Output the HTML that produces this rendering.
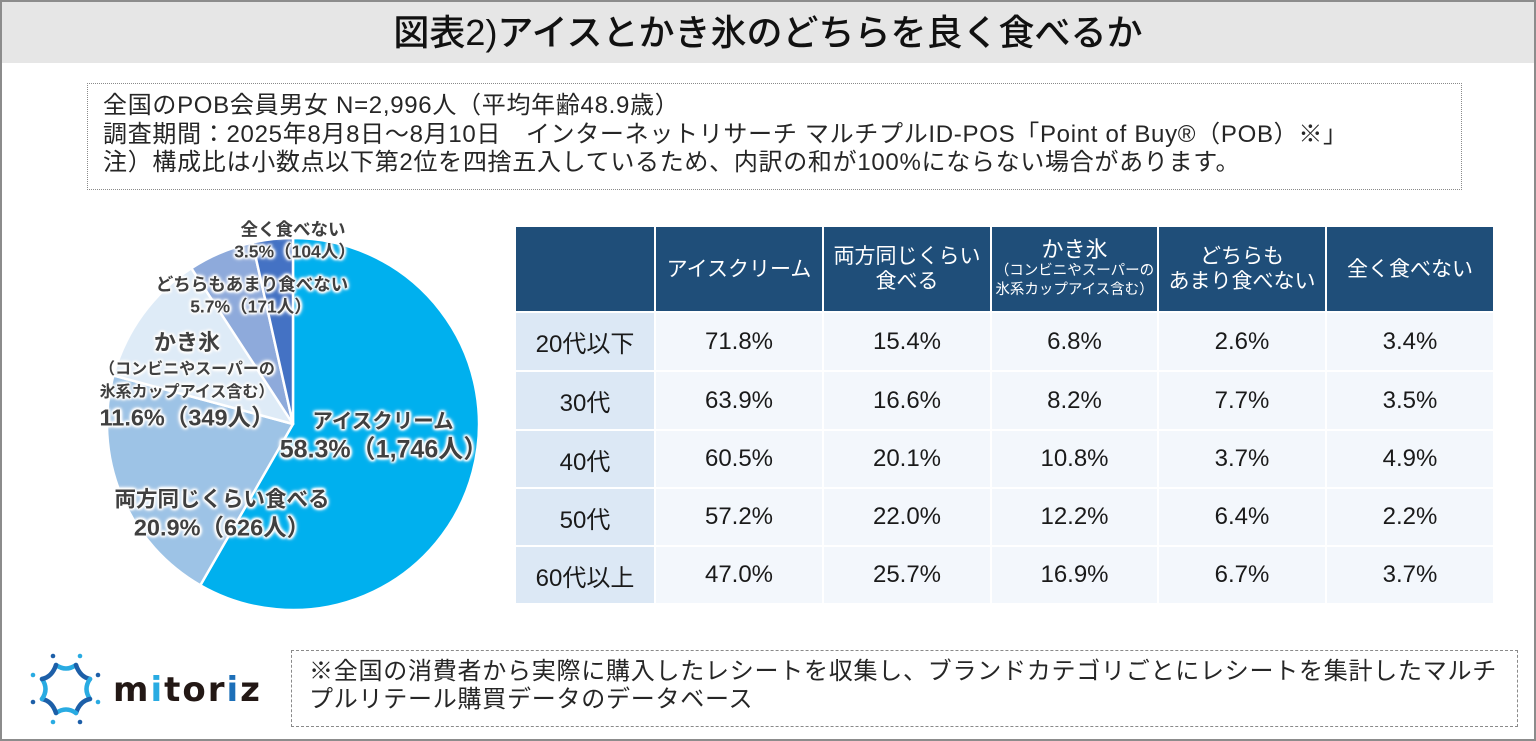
<!DOCTYPE html>
<html><head><meta charset="utf-8">
<style>
*{margin:0;padding:0;box-sizing:border-box}
html,body{width:1536px;height:741px;overflow:hidden;background:#fff}
body{position:relative;font-family:"Liberation Sans","Noto Sans CJK JP",sans-serif;color:#222}
.frame{position:absolute;left:0;top:0;width:1536px;height:741px;border:2px solid #8c8c8c}
.band{position:absolute;left:2px;top:2px;width:1532px;height:61px;background:#e6e6e6}
.title{position:absolute;left:0;top:2px;width:1536px;height:61px;line-height:61px;text-align:center;font-size:36px;font-weight:500;color:#111}
.info{position:absolute;left:87px;top:83px;width:1375px;height:107px;border:1px dotted #8a8a8a}
.infot{position:absolute;left:103px;top:92px;font-size:24px;line-height:28.5px;color:#262626;white-space:nowrap;letter-spacing:0.7px}
.note{position:absolute;left:291px;top:650px;width:1227px;height:77px;border:1px dashed #8a8a8a}
.notet{position:absolute;left:309px;top:658px;font-size:24px;line-height:28px;color:#262626;white-space:nowrap;letter-spacing:0.75px}
.lbl{position:absolute;transform:translate(-50%,-50%);white-space:nowrap;color:#404040;font-weight:bold;
 text-shadow:0 0 2px #fff,0 0 3px #fff,0 0 4px #fff,0 0 5px #fff,0 0 6px #fff,1px 1px 2px #fff,-1px -1px 2px #fff,1px -1px 2px #fff,-1px 1px 2px #fff;line-height:1}
.c{position:absolute;display:flex;align-items:center;justify-content:center;text-align:center;white-space:nowrap}
.h{background:#1f4e79;color:#fff;font-size:21px;line-height:25px;flex-direction:column}
.r{background:#dce8f5;font-size:24px;color:#1a1a1a}
.d{background:#f3f7fc;font-size:24px;color:#1a1a1a}
.mit{position:absolute;left:113px;top:670px;font-size:34px;font-weight:bold;letter-spacing:2px;color:#231815;font-family:"DejaVu Sans","Liberation Sans",sans-serif;line-height:40px}
</style></head><body>
<div class="frame"></div>
<div class="band"></div>
<div class="title">図表2)アイスとかき氷のどちらを良く食べるか</div>

<div class="info"></div>
<div class="infot">全国のPOB会員男女 N=2,996人（平均年齢48.9歳）<br>調査期間：2025年8月8日～8月10日　インターネットリサーチ マルチプルID-POS「Point of Buy®（POB）※」<br>注）構成比は小数点以下第2位を四捨五入しているため、内訳の和が100%にならない場合があります。</div>

<svg style="position:absolute;left:0;top:0" width="1536" height="741">
<g stroke="#fff" stroke-width="2.5" stroke-linejoin="round">
<path d="M293,424 L293,238 A186,186 0 1,1 200.35,585.28 Z" fill="#00b0ee"/>
<path d="M293,424 L200.35,585.28 A186,186 0 0,1 113.44,375.47 Z" fill="#9dc3e6"/>
<path d="M293,424 L113.44,375.47 A186,186 0 0,1 191.37,268.22 Z" fill="#deebf7"/>
<path d="M293,424 L191.37,268.22 A186,186 0 0,1 252.43,242.48 Z" fill="#8eaadb"/>
<path d="M293,424 L252.43,242.48 A186,186 0 0,1 293,238 Z" fill="#4472c4"/>
</g>
<!-- logo -->
<g fill="none" stroke-width="4.5" stroke-linecap="round">
<path d="M56,665 Q66,672 76,665" stroke="#29abe2"/>
<path d="M76,665 Q80,677 90,679" stroke="#1d5fa8"/>
<path d="M90,679 Q83,689 90,699" stroke="#29abe2"/>
<path d="M90,699 Q80,701 76,713" stroke="#1d5fa8"/>
<path d="M76,713 Q66,706 56,713" stroke="#29abe2"/>
<path d="M56,713 Q52,701 42,699" stroke="#1d5fa8"/>
<path d="M42,699 Q49,689 42,679" stroke="#29abe2"/>
<path d="M42,679 Q52,677 56,665" stroke="#1d5fa8"/>
</g>
<g>
<circle cx="53" cy="656" r="2.3" fill="#1d5fa8"/><circle cx="80" cy="656" r="2.3" fill="#29abe2"/>
<circle cx="98" cy="675" r="2.3" fill="#1d5fa8"/><circle cx="98" cy="702" r="2.3" fill="#29abe2"/>
<circle cx="80" cy="722" r="2.3" fill="#1d5fa8"/><circle cx="53" cy="722" r="2.3" fill="#29abe2"/>
<circle cx="33" cy="702" r="2.3" fill="#1d5fa8"/><circle cx="33" cy="675" r="2.3" fill="#29abe2"/>
</g>
</svg>

<div class="lbl" style="left:293px;top:230px;font-size:17.5px">全く食べない</div>
<div class="lbl" style="left:295px;top:252px;font-size:17.5px">3.5%（104人）</div>
<div class="lbl" style="left:252px;top:285px;font-size:17.5px">どちらもあまり食べない</div>
<div class="lbl" style="left:251px;top:307px;font-size:17.5px">5.7%（171人）</div>
<div class="lbl" style="left:187px;top:343px;font-size:22px">かき氷</div>
<div class="lbl" style="left:187px;top:370px;font-size:16px">（コンビニやスーパーの</div>
<div class="lbl" style="left:187px;top:393px;font-size:16px">氷系カップアイス含む）</div>
<div class="lbl" style="left:187px;top:418px;font-size:23.5px">11.6%（349人）</div>
<div class="lbl" style="left:383px;top:422px;font-size:20.5px">アイスクリーム</div>
<div class="lbl" style="left:384px;top:450px;font-size:25px">58.3%（1,746人）</div>
<div class="lbl" style="left:222px;top:500px;font-size:21.5px">両方同じくらい食べる</div>
<div class="lbl" style="left:222px;top:528px;font-size:23.5px">20.9%（626人）</div>

<!-- table header -->
<div class="c h" style="left:516px;top:227px;width:138px;height:84px"></div>
<div class="c h" style="left:656px;top:227px;width:166px;height:84px">アイスクリーム</div>
<div class="c h" style="left:824px;top:227px;width:166px;height:84px"><span>両方同じくらい</span><span>食べる</span></div>
<div class="c h" style="left:992px;top:227px;width:165px;height:84px"><span style="font-size:22px;line-height:22px">かき氷</span><span style="font-size:14.5px;line-height:20px">（コンビニやスーパーの</span><span style="font-size:14.5px;line-height:19px">氷系カップアイス含む）</span></div>
<div class="c h" style="left:1159px;top:227px;width:166px;height:84px"><span>どちらも</span><span>あまり食べない</span></div>
<div class="c h" style="left:1327px;top:227px;width:166px;height:84px">全く食べない</div>

<!-- rows -->
<div class="c r" style="left:516px;top:313px;width:138px;height:57px">20代以下</div>
<div class="c d" style="left:656px;top:313px;width:166px;height:57px">71.8%</div>
<div class="c d" style="left:824px;top:313px;width:166px;height:57px">15.4%</div>
<div class="c d" style="left:992px;top:313px;width:165px;height:57px">6.8%</div>
<div class="c d" style="left:1159px;top:313px;width:166px;height:57px">2.6%</div>
<div class="c d" style="left:1327px;top:313px;width:166px;height:57px">3.4%</div>

<div class="c r" style="left:516px;top:372px;width:138px;height:57px">30代</div>
<div class="c d" style="left:656px;top:372px;width:166px;height:57px">63.9%</div>
<div class="c d" style="left:824px;top:372px;width:166px;height:57px">16.6%</div>
<div class="c d" style="left:992px;top:372px;width:165px;height:57px">8.2%</div>
<div class="c d" style="left:1159px;top:372px;width:166px;height:57px">7.7%</div>
<div class="c d" style="left:1327px;top:372px;width:166px;height:57px">3.5%</div>

<div class="c r" style="left:516px;top:431px;width:138px;height:56px">40代</div>
<div class="c d" style="left:656px;top:431px;width:166px;height:56px">60.5%</div>
<div class="c d" style="left:824px;top:431px;width:166px;height:56px">20.1%</div>
<div class="c d" style="left:992px;top:431px;width:165px;height:56px">10.8%</div>
<div class="c d" style="left:1159px;top:431px;width:166px;height:56px">3.7%</div>
<div class="c d" style="left:1327px;top:431px;width:166px;height:56px">4.9%</div>

<div class="c r" style="left:516px;top:489px;width:138px;height:56px">50代</div>
<div class="c d" style="left:656px;top:489px;width:166px;height:56px">57.2%</div>
<div class="c d" style="left:824px;top:489px;width:166px;height:56px">22.0%</div>
<div class="c d" style="left:992px;top:489px;width:165px;height:56px">12.2%</div>
<div class="c d" style="left:1159px;top:489px;width:166px;height:56px">6.4%</div>
<div class="c d" style="left:1327px;top:489px;width:166px;height:56px">2.2%</div>

<div class="c r" style="left:516px;top:547px;width:138px;height:56px">60代以上</div>
<div class="c d" style="left:656px;top:547px;width:166px;height:56px">47.0%</div>
<div class="c d" style="left:824px;top:547px;width:166px;height:56px">25.7%</div>
<div class="c d" style="left:992px;top:547px;width:165px;height:56px">16.9%</div>
<div class="c d" style="left:1159px;top:547px;width:166px;height:56px">6.7%</div>
<div class="c d" style="left:1327px;top:547px;width:166px;height:56px">3.7%</div>

<div class="mit">m<span style="color:#29abe2">i</span>tor<span style="color:#1d6fb8">i</span>z</div>

<div class="note"></div>
<div class="notet">※全国の消費者から実際に購入したレシートを収集し、ブランドカテゴリごとにレシートを集計したマルチ<br>プルリテール購買データのデータベース</div>
</body></html>
